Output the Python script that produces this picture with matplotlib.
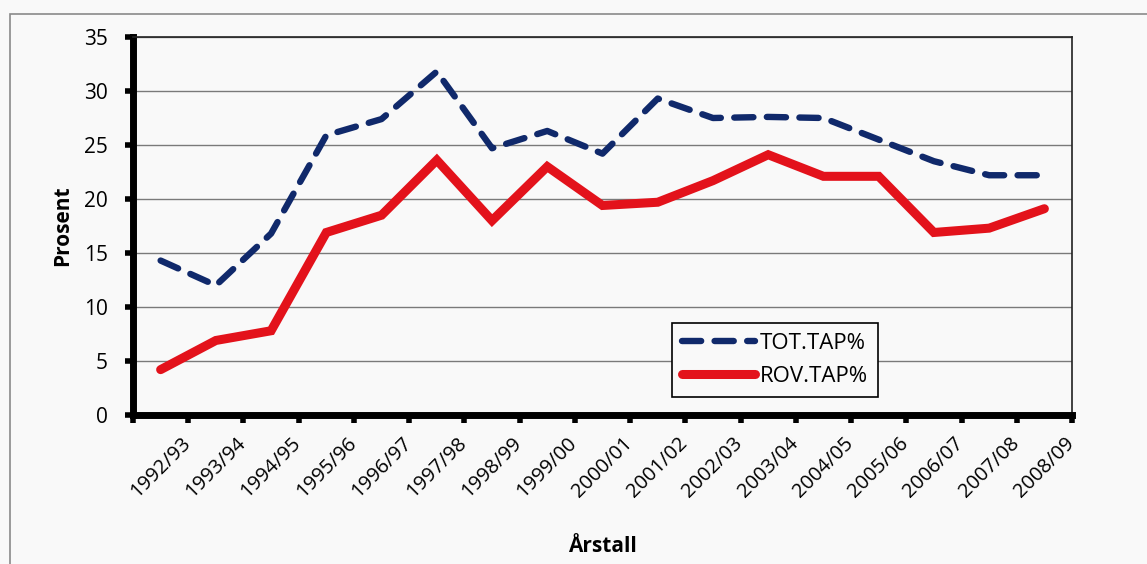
import matplotlib
matplotlib.use("Agg")
import matplotlib.pyplot as plt
from matplotlib.patches import Rectangle

seasons = ["1992/93", "1993/94", "1994/95", "1995/96", "1996/97", "1997/98",
           "1998/99", "1999/00", "2000/01", "2001/02", "2002/03", "2003/04",
           "2004/05", "2005/06", "2006/07", "2007/08", "2008/09"]
tot_tap = [14.3, 12.0, 16.8, 25.9, 27.4, 31.8, 24.7, 26.3, 24.2, 29.3,
           27.5, 27.6, 27.5, 25.5, 23.5, 22.2, 22.2]
rov_tap = [4.2, 6.9, 7.8, 16.9, 18.5, 23.6, 18.0, 23.0, 19.4, 19.7,
           21.7, 24.1, 22.1, 22.1, 16.9, 17.3, 19.1]
yticks = [0, 5, 10, 15, 20, 25, 30, 35]

plt.rcParams['font.family'] = ['Open Sans', 'DejaVu Sans']

fig = plt.figure(figsize=(11.47, 5.64), dpi=100)
fig.patch.set_facecolor('#f9f9f9')
fig.add_artist(Rectangle((10/1147, -0.01), 1.2, (564-14)/564 + 0.01,
                         transform=fig.transFigure, fill=False,
                         edgecolor='#8a8a8a', linewidth=1.2))

ax = fig.add_axes([133/1147, 1 - 415/564, (1072-133)/1147, (415-37)/564])
ax.set_facecolor('#f9f9f9')

x = list(range(len(seasons)))
ax.plot(x, tot_tap, color='#10296b', linewidth=4.6, linestyle=(0, (3.0, 2.1)),
        dash_capstyle='round', label='TOT.TAP%', zorder=3)
ax.plot(x, rov_tap, color='#e3121b', linewidth=6.5, solid_capstyle='round',
        solid_joinstyle='miter', label='ROV.TAP%', zorder=3)

ax.set_xlim(-0.5, len(seasons) - 0.5)
ax.set_ylim(0, 35)
ax.set_yticks(yticks)
ax.set_yticklabels([str(v) for v in yticks], fontsize=15)
ax.set_xticks([i - 0.5 for i in range(len(seasons) + 1)], minor=False)
ax.set_xticklabels([])
# label anchors sit slightly right of category centres (Excel-style rotated labels)
ax.set_xticks([i + 0.36 for i in x], minor=True)
ax.set_xticklabels(seasons, minor=True, rotation=45, ha='right',
                   va='top', rotation_mode='anchor', fontsize=14.5)
ax.tick_params(axis='x', which='minor', length=0, pad=13)
ax.tick_params(axis='x', which='major', length=6, width=4, direction='out')
ax.tick_params(axis='y', length=6, width=4, direction='out', pad=12)

ax.grid(axis='y', color='#7a7a7a', linewidth=1.0, zorder=0)
ax.set_axisbelow(True)

for side in ['top', 'right']:
    ax.spines[side].set_linewidth(1.2)
    ax.spines[side].set_color('#222222')
ax.spines['left'].set_linewidth(5)
ax.spines['bottom'].set_linewidth(5)

ax.set_ylabel('Prosent', fontsize=15, fontweight='bold', labelpad=8)
ax.set_xlabel('Årstall', fontsize=15, fontweight='bold', labelpad=25)

leg = ax.legend(loc='lower left', bbox_to_anchor=((672-133)/(1072-133), (415-397)/(415-37)),
                fontsize=16, frameon=True, fancybox=False, handlelength=3.3,
                borderpad=0.45, labelspacing=0.55, handletextpad=0.2,
                borderaxespad=0)
leg.get_frame().set_edgecolor('black')
leg.get_frame().set_linewidth(1.2)
leg.get_frame().set_facecolor('#f9f9f9')
leg.get_frame().set_alpha(1)

fig.savefig('out.png', dpi=100, facecolor=fig.get_facecolor())
